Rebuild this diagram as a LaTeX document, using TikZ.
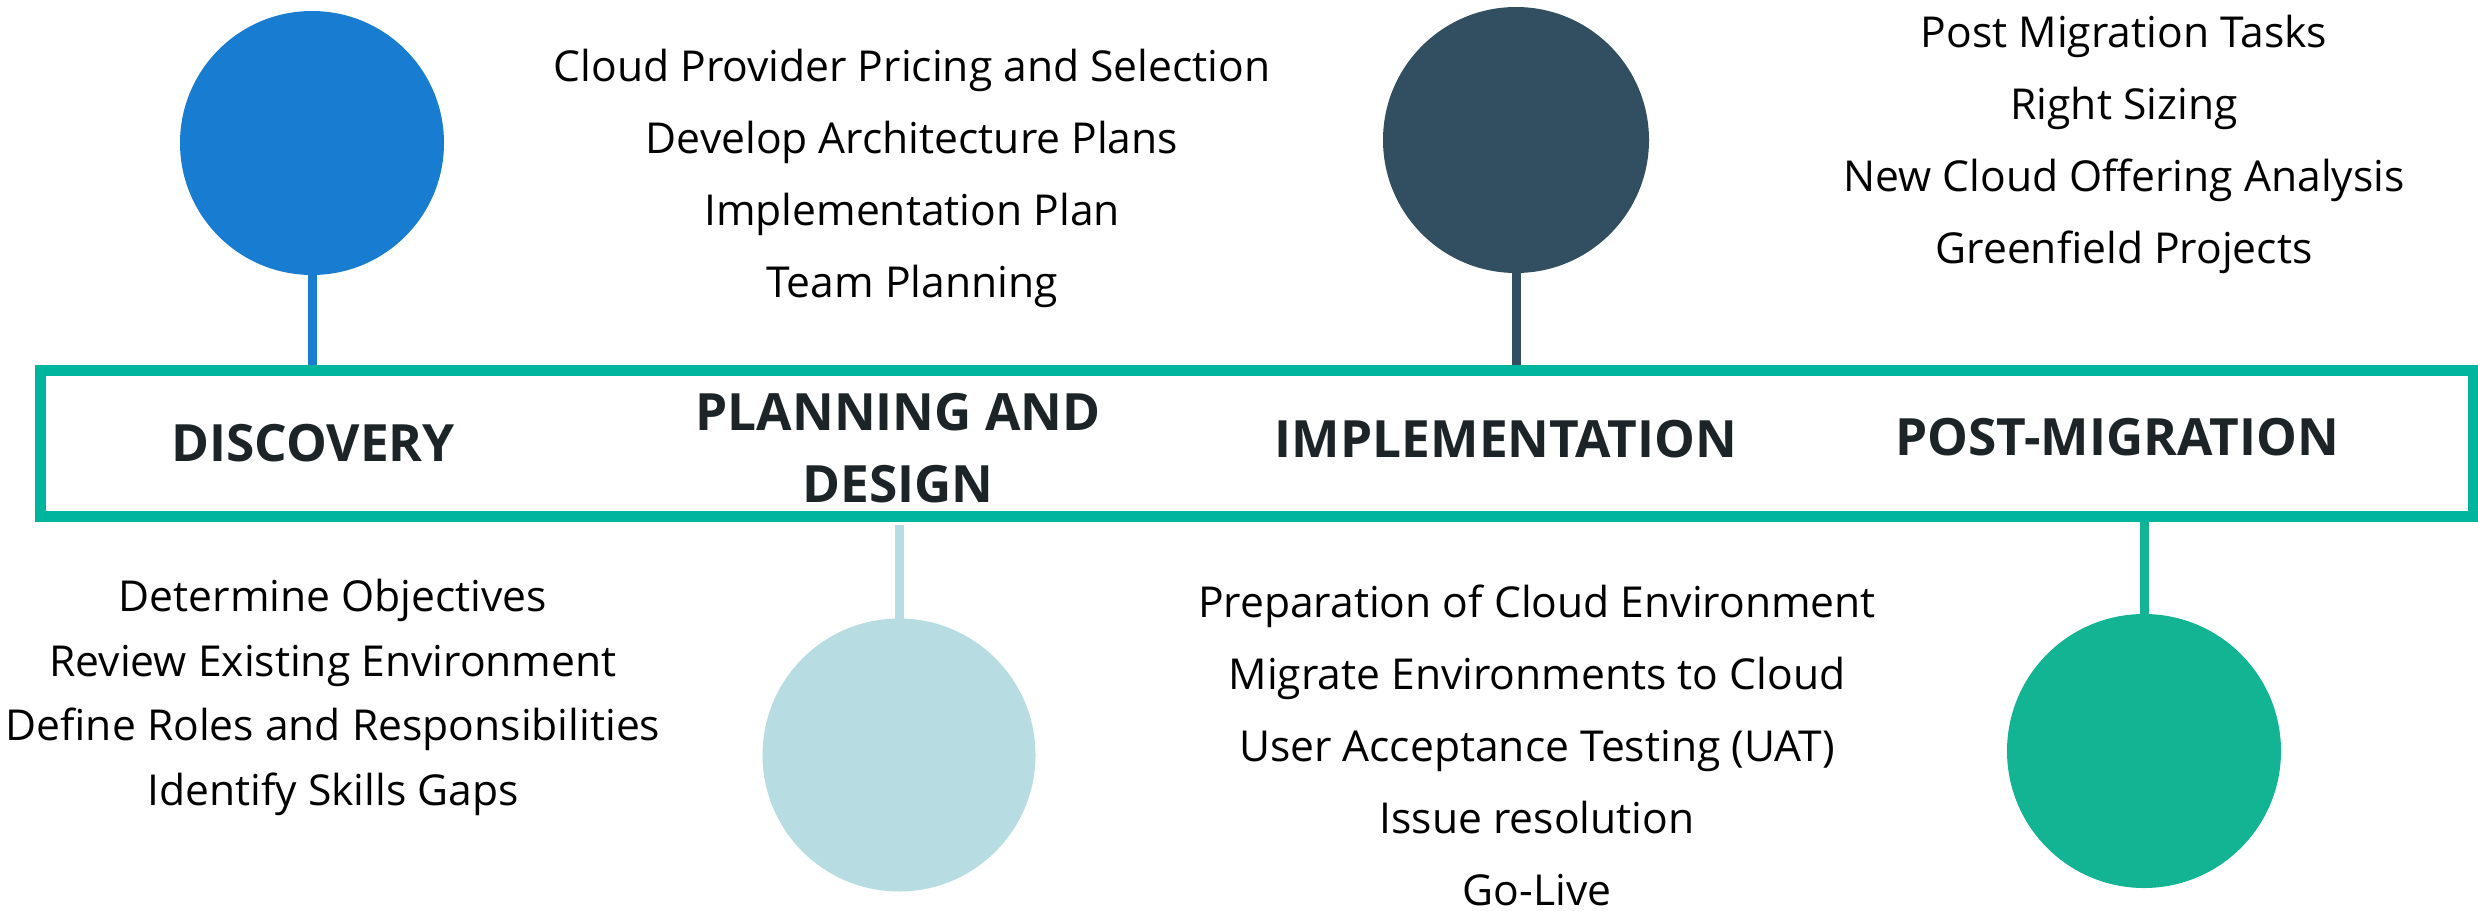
\documentclass[tikz,border=0pt]{standalone}
\usepackage{fontspec}
\setmainfont{Open Sans}
\usepackage{xcolor}
\usepackage{tikz}
\usetikzlibrary{positioning,calc}

\definecolor{discblue}{HTML}{187CD0}
\definecolor{planlight}{HTML}{B7DDE2}
\definecolor{impldark}{HTML}{324F61}
\definecolor{postgreen}{HTML}{12B494}
\definecolor{bandteal}{HTML}{00B59D}
\definecolor{titlegrey}{HTML}{1C2427}

\begin{document}
\begin{tikzpicture}[
  x=0.5pt, y=-0.5pt,
  phase/.style={circle, fill=#1, inner sep=0pt, outer sep=0pt},
  stem/.style={draw=#1, line width=4.5pt},
  tasks/.style={align=center, anchor=base, inner sep=0pt, font=\fontsize{21.3pt}{36pt}\selectfont},
  title/.style={align=center, anchor=base, inner sep=0pt, text=titlegrey, font=\fontsize{25.7pt}{36pt}\selectfont\bfseries},
]
  \useasboundingbox (0,0) rectangle (2478,910);

  % the four phases
  \node (disc-circle)[phase=discblue, minimum size=132pt] at (312,143) {};
  \node (plan-circle)[phase=planlight, minimum size=136.5pt] at (899,755) {};
  \node (impl-circle)[phase=impldark, minimum size=133pt] at (1516,140) {};
  \node (post-circle)[phase=postgreen, minimum size=137pt] at (2144,751) {};

  \node (band)[draw=bandteal, line width=5.5pt, minimum width=1216.5pt, minimum height=73pt, inner sep=0pt] at (1256.5,443) {};

  \draw[stem=discblue] (disc-circle.south) -- (disc-circle.south |- band.north);
  \draw[stem=impldark] (impl-circle.south) -- (impl-circle.south |- band.north);
  \draw[stem=planlight, shorten <=1.75pt] (plan-circle.north |- band.south) -- (plan-circle.north);
  \draw[stem=postgreen] (post-circle.north |- band.south) -- (post-circle.north);

  % titles in the band (base = last line)
  \node (disc-title)[title] at (313,461) {DISCOVERY};
  \node (plan-title)[title] at (898,502) {PLANNING AND\\DESIGN};
  \node (impl-title)[title] at (1506,457) {IMPLEMENTATION};
  \node (post-title)[title] at (2117,455) {POST-MIGRATION};

  % task lists
  \node (disc-tasks)[tasks, font=\fontsize{21.3pt}{32.25pt}\selectfont] at (333,805) {Determine Objectives\\Review Existing Environment\\Define Roles and Responsibilities\\Identify Skills Gaps};
  \node (plan-tasks)[tasks] at (912,297) {Cloud Provider Pricing and Selection\\Develop Architecture Plans\\Implementation Plan\\Team Planning};
  \node (impl-tasks)[tasks] at (1537,905) {Preparation of Cloud Environment\\Migrate Environments to Cloud\\User Acceptance Testing (UAT)\\Issue resolution\\Go-Live};
  \node (post-tasks)[tasks] at (2124,263) {Post Migration Tasks\\Right Sizing\\New Cloud Offering Analysis\\Greenfield Projects};
\end{tikzpicture}
\end{document}
